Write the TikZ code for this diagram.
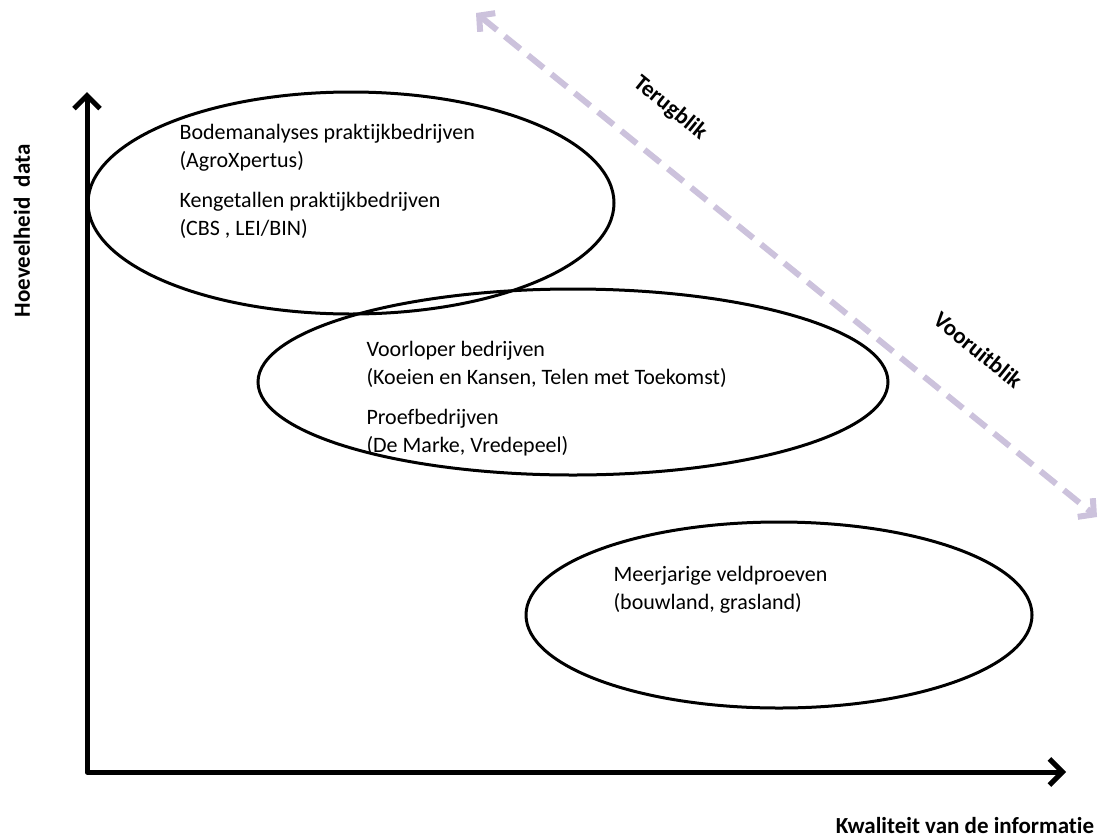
\documentclass[tikz,border=0pt]{standalone}
\usepackage{fontspec}
\setmainfont{Carlito}[Ligatures=NoCommon]
\usetikzlibrary{arrows.meta,shapes.geometric}
\definecolor{lavender}{RGB}{204,194,220}

\begin{document}
\begin{tikzpicture}[x=1pt, y=-1pt,
  blob/.style={draw, ellipse, line width=3pt, inner sep=0pt},
  txt/.style={anchor=west, align=left, font=\fontsize{22}{28}\selectfont},
  lbl/.style={font=\bfseries\fontsize{23}{26}\selectfont}]
  \useasboundingbox (0,0) rectangle (1102,838);
  % axes
  \coordinate (origin) at (87,775);
  \coordinate (ytop) at (87,92);
  \coordinate (xend) at (1066,772);
  \draw [line width=5pt, {Straight Barb[length=13pt,width=26pt]}-{Straight Barb[length=13pt,width=26pt]}, line cap=round, line join=round] (ytop) -- (87,772) -- (xend);
  \node [lbl, rotate=90] (yname) at (22,231) {Hoeveelheid\ \ data};
  \node [lbl] (xname) at (965,826) {Kwaliteit van de informatie};
  % look back / ahead
  \coordinate (back) at (476,13);
  \coordinate (ahead) at (1097,517);
  \draw [line width=6pt, lavender, dash pattern=on 20pt off 10pt,
    {Straight Barb[length=11pt,width=24pt]}-{Straight Barb[length=11pt,width=24pt]}] (back) -- (ahead);
  \node [lbl, rotate=-39] (terug) at (670,108) {Terugblik};
  \node [lbl, rotate=-39] (vooruit) at (978,350) {Vooruitblik};
  % data sources
  \node [blob, minimum width=526pt, minimum height=222pt] (bodem) at (351,203) {};
  \node [blob, minimum width=630pt, minimum height=186pt] (voorloper) at (573,382) {};
  \node [blob, minimum width=506pt, minimum height=186pt] (veld) at (779,615) {};
  \node [txt] (bodemtxt) at (176,181) {Bodemanalyses praktijkbedrijven\\(AgroXpertus)\\[12pt]Kengetallen praktijkbedrijven\\(CBS , LEI/BIN)};
  \node [txt] (voorlopertxt) at (363,399) {Voorloper bedrijven\\(Koeien en Kansen, Telen met Toekomst)\\[12pt]Proefbedrijven\\(De Marke, Vredepeel)};
  \node [txt] (veldtxt) at (610,590) {Meerjarige veldproeven\\(bouwland, grasland)};
\end{tikzpicture}
\end{document}
